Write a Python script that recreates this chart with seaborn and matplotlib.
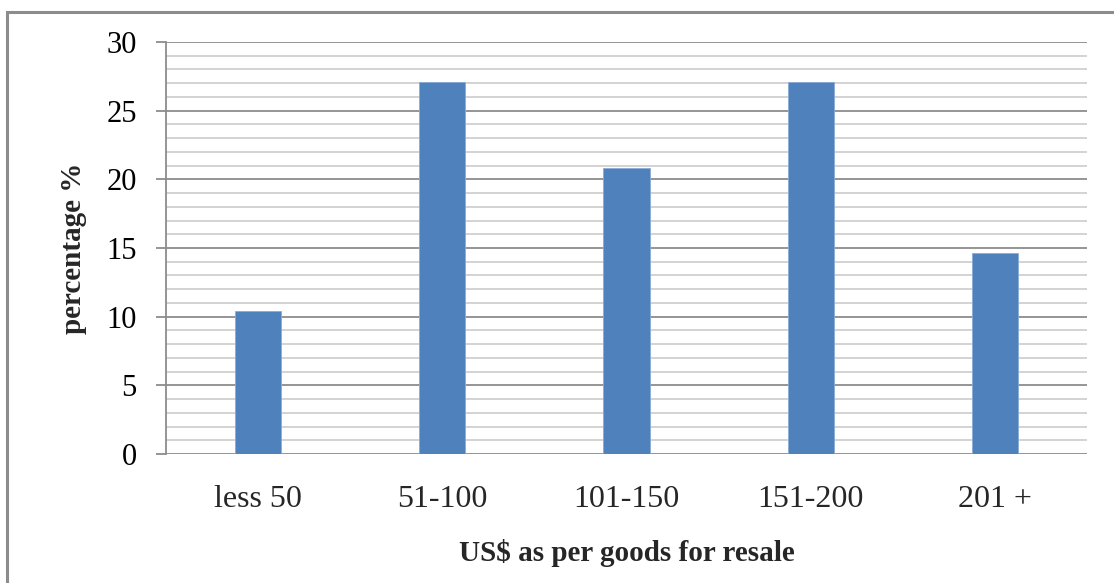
import matplotlib
matplotlib.use("Agg")
import matplotlib.pyplot as plt
import seaborn as sns
import numpy as np
from matplotlib.patches import Rectangle
from matplotlib.ticker import MultipleLocator

categories = ["less 50", "51-100", "101-150", "151-200", "201 +"]
values = [10.4, 27.1, 20.8, 27.1, 14.6]
y_ticks = [0, 5, 10, 15, 20, 25, 30]

sns.set_style("white")
plt.rcParams['font.family'] = ['Liberation Serif', 'DejaVu Serif']

W, H = 1114, 583
fig = plt.figure(figsize=(W / 100, H / 100), dpi=100)
ax = fig.add_axes([166 / W, (H - 454) / H, (1087 - 166) / W, (454 - 42) / H])

sns.barplot(x=categories, y=values, color="#4F81BD", saturation=1, width=0.25,
            ax=ax, edgecolor="#8aaad6", linewidth=0.6, zorder=3)

ax.set_ylim(0, 30)
ax.set_xlim(-0.5, 4.5)
ax.set_yticks(y_ticks)
ax.set_yticklabels([str(t) for t in y_ticks], fontsize=22)
ax.yaxis.set_minor_locator(MultipleLocator(1))
ax.grid(which="major", axis="y", color="#8c8c8c", linewidth=1.3, zorder=0)
ax.grid(which="minor", axis="y", color="#d0d0d0", linewidth=1.3, zorder=0)
ax.grid(which="major", axis="x", visible=False)
ax.set_axisbelow(True)

for s in ["top", "right", "bottom"]:
    ax.spines[s].set_visible(False)
ax.spines["left"].set_color("#8c8c8c")
ax.spines["left"].set_linewidth(1.3)

ax.tick_params(axis="y", which="major", direction="out", length=7, width=1.3,
               color="#8c8c8c", left=True, pad=14, labelcolor="black")
ax.tick_params(axis="y", which="minor", length=0)
ax.tick_params(axis="x", length=0, pad=22, labelsize=23)

ax.set_xlabel("US$ as per goods for resale", fontsize=21, fontweight="bold", labelpad=18)
ax.set_ylabel("percentage %", fontsize=21, fontweight="bold", labelpad=14)

# outer chart border (open at right and bottom, as in the reference)
fig.patches.append(Rectangle((7 / W, -0.1), 1.2, (H - 12) / H + 0.1,
                             transform=fig.transFigure, fill=False,
                             edgecolor="#8c8c8c", linewidth=2.2, zorder=10))

fig.savefig("out.png", dpi=100)
